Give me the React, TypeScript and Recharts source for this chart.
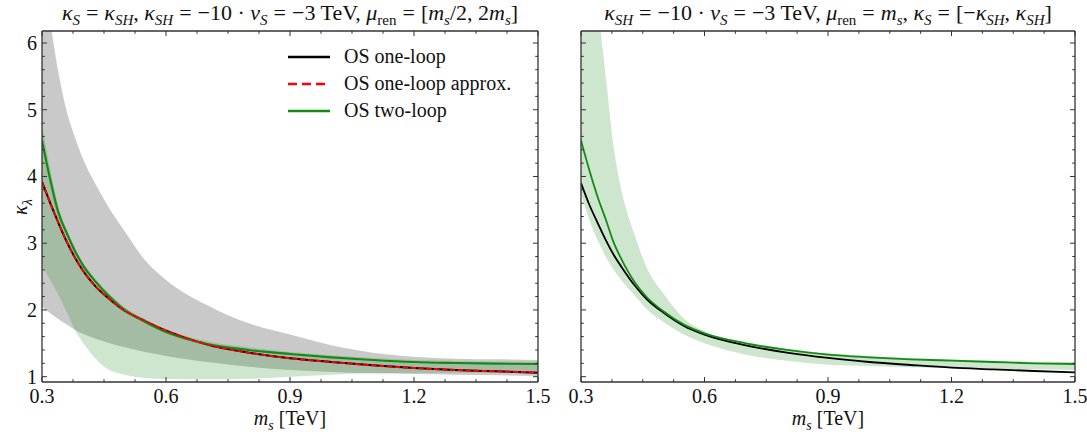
import React from 'react';
import { ComposedChart, Line, Area, XAxis, YAxis } from 'recharts';

// m_s grid [TeV]
const masses = [0.3, 0.32, 0.34, 0.36, 0.38, 0.4, 0.43, 0.46, 0.5, 0.55, 0.6, 0.7, 0.8, 0.9, 1.0, 1.1, 1.2, 1.3, 1.4, 1.5];

// left panel: kappa_S = kappa_SH, mu_ren scanned in [m_s/2, 2 m_s]
const leftOneLoop = [3.92, 3.6, 3.3, 3.02, 2.78, 2.58, 2.35, 2.18, 1.99, 1.83, 1.69, 1.48, 1.36, 1.275, 1.22, 1.17, 1.13, 1.1, 1.08, 1.06];
const leftApprox = [3.92, 3.6, 3.3, 3.02, 2.78, 2.58, 2.35, 2.18, 1.99, 1.83, 1.69, 1.48, 1.36, 1.275, 1.22, 1.17, 1.13, 1.1, 1.08, 1.06];
const leftTwoLoop = [4.54, 3.95, 3.45, 3.15, 2.88, 2.66, 2.42, 2.22, 2.0, 1.82, 1.67, 1.49, 1.4, 1.34, 1.29, 1.25, 1.22, 1.205, 1.195, 1.19];
const leftGrayHi = [7.0, 6.3, 5.55, 4.97, 4.58, 4.25, 3.88, 3.55, 3.18, 2.74, 2.45, 2.07, 1.8, 1.63, 1.47, 1.36, 1.3, 1.27, 1.26, 1.25];
const leftGrayLo = [2.05, 1.95, 1.86, 1.78, 1.7, 1.64, 1.57, 1.51, 1.44, 1.37, 1.31, 1.22, 1.15, 1.1, 1.07, 1.05, 1.04, 1.03, 1.02, 1.01];
const leftGreenHi = [4.79, 4.1, 3.55, 3.2, 2.92, 2.7, 2.46, 2.26, 2.04, 1.86, 1.71, 1.53, 1.44, 1.37, 1.32, 1.28, 1.25, 1.235, 1.225, 1.22];
const leftGreenLo = [2.65, 2.45, 2.22, 1.97, 1.7, 1.5, 1.27, 1.11, 1.03, 0.98, 0.965, 0.96, 0.97, 1.0, 1.03, 1.05, 1.06, 1.06, 1.06, 1.06];

// right panel: mu_ren = m_s, kappa_S scanned in [-kappa_SH, kappa_SH]
const rightOneLoop = [3.9, 3.58, 3.31, 3.05, 2.82, 2.63, 2.37, 2.16, 1.96, 1.76, 1.63, 1.47, 1.36, 1.28, 1.22, 1.175, 1.135, 1.11, 1.085, 1.065];
const rightTwoLoop = [4.54, 4.1, 3.7, 3.36, 3.0, 2.74, 2.42, 2.19, 1.98, 1.78, 1.65, 1.5, 1.4, 1.33, 1.29, 1.26, 1.24, 1.22, 1.2, 1.19];
const rightGreenHi = [9.0, 7.7, 6.6, 5.5, 4.42, 3.75, 3.13, 2.63, 2.25, 1.87, 1.68, 1.52, 1.42, 1.35, 1.31, 1.28, 1.26, 1.24, 1.225, 1.215];
const rightGreenLo = [3.75, 3.35, 3.05, 2.8, 2.6, 2.43, 2.22, 2.01, 1.82, 1.63, 1.5, 1.33, 1.24, 1.18, 1.16, 1.14, 1.13, 1.12, 1.11, 1.1];

const xTicks = [0.3, 0.375, 0.45, 0.525, 0.6, 0.675, 0.75, 0.825, 0.9, 0.975, 1.05, 1.125, 1.2, 1.275, 1.35, 1.425, 1.5];
const xMajor = ['0.3', '0.6', '0.9', '1.2', '1.5'];
const yTicks = [1, 1.2, 1.4, 1.6, 1.8, 2, 2.2, 2.4, 2.6, 2.8, 3, 3.2, 3.4, 3.6, 3.8, 4, 4.2, 4.4, 4.6, 4.8, 5, 5.2, 5.4, 5.6, 5.8, 6];
const yMajor = ['1', '2', '3', '4', '5', '6'];

const leftData = masses.map((m, i) => ({
  m,
  gray: [leftGrayLo[i], leftGrayHi[i]],
  greenBand: [leftGreenLo[i], leftGreenHi[i]],
  oneLoop: leftOneLoop[i],
  approx: leftApprox[i],
  twoLoop: leftTwoLoop[i],
}));

const rightData = masses.map((m, i) => ({
  m,
  greenBand: [rightGreenLo[i], rightGreenHi[i]],
  oneLoop: rightOneLoop[i],
  twoLoop: rightTwoLoop[i],
}));

const FONT = '"Liberation Serif", "DejaVu Serif", serif';
const FRAME = '#333';
const GREEN = '#138a13';
const H = 432;

const fmt = (v: number) => String(Math.round(v * 1000) / 1000);

// inward ticks, mpl style; labels only where showLabels
const makeTick = (side: 'bottom' | 'top' | 'left' | 'right', showLabels: boolean) => (props: any) => {
  const { x, y, payload } = props;
  const label = fmt(payload.value);
  const major = side === 'bottom' || side === 'top' ? xMajor.includes(label) : yMajor.includes(label);
  const len = major ? 5 : 2.8;
  let line;
  if (side === 'bottom') line = <line x1={x} x2={x} y1={y} y2={y - len} stroke={FRAME} strokeWidth={1} />;
  else if (side === 'top') line = <line x1={x} x2={x} y1={y} y2={y + len} stroke={FRAME} strokeWidth={1} />;
  else if (side === 'left') line = <line x1={x} x2={x + len} y1={y} y2={y} stroke={FRAME} strokeWidth={1} />;
  else line = <line x1={x} x2={x - len} y1={y} y2={y} stroke={FRAME} strokeWidth={1} />;
  let text = null;
  if (showLabels && major) {
    if (side === 'bottom')
      text = <text x={x} y={y + 21} textAnchor="middle" fontFamily={FONT} fontSize={20} fill="#111">{label}</text>;
    if (side === 'left')
      text = <text x={x - 5} y={y + 7} textAnchor="end" fontFamily={FONT} fontSize={20} fill="#111">{label}</text>;
  }
  return <g>{line}{text}</g>;
};

const frameAxes = (showY: boolean) => [
  <XAxis key="xb" dataKey="m" type="number" domain={[0.3, 1.5]} ticks={xTicks} interval={0} allowDataOverflow
    height={1} tickSize={0} tickMargin={0} tickLine={false} axisLine={{ stroke: FRAME, strokeWidth: 1.3 }}
    tick={makeTick('bottom', true)} />,
  <XAxis key="xt" xAxisId="top" orientation="top" dataKey="m" type="number" domain={[0.3, 1.5]} ticks={xTicks} interval={0} allowDataOverflow
    height={1} tickSize={0} tickMargin={0} tickLine={false} axisLine={{ stroke: FRAME, strokeWidth: 1.3 }}
    tick={makeTick('top', false)} />,
  <YAxis key="yl" type="number" domain={[0.92, 6.18]} ticks={yTicks} interval={0} allowDataOverflow
    width={1} tickSize={0} tickMargin={0} tickLine={false} axisLine={{ stroke: FRAME, strokeWidth: 1.3 }}
    tick={makeTick('left', showY)} />,
  <YAxis key="yr" yAxisId="right" orientation="right" type="number" domain={[0.92, 6.18]} ticks={yTicks} interval={0} allowDataOverflow
    width={1} tickSize={0} tickMargin={0} tickLine={false} axisLine={{ stroke: FRAME, strokeWidth: 1.3 }}
    tick={makeTick('right', false)} />,
  <Line key="ghost" xAxisId="top" yAxisId="right" dataKey="oneLoop" stroke="none" dot={false} isAnimationActive={false} />,
];

const SUB = { fontSize: 15 };
const Eq = () => <span style={{ margin: '0 6px' }}>=</span>;

const XLabel = ({ cx }: { cx: number }) => (
  <div style={{ position: 'absolute', left: cx, top: 407, transform: 'translateX(-50%)', fontFamily: FONT, fontSize: 20, lineHeight: '22px', whiteSpace: 'nowrap', color: '#111' }}>
    <i>m</i><sub style={{ fontSize: 14, lineHeight: 0 }}><i>s</i></sub> [TeV]
  </div>
);

const legendItems = [
  { name: 'OS one-loop', color: '#000', dash: undefined },
  { name: 'OS one-loop approx.', color: '#f00', dash: '9 5' },
  { name: 'OS two-loop', color: GREEN, dash: undefined },
];

const titleStyle = (cx: number): React.CSSProperties => ({
  position: 'absolute', left: cx, top: 0, transform: 'translateX(-50%)', fontSize: 22, whiteSpace: 'nowrap', color: '#111',
});

export default function App() {
  return (
    <div style={{ position: 'absolute', left: 0, top: 0, width: 1087, height: 432, background: '#fff', fontFamily: FONT }}>
      {/* titles */}
      <div style={titleStyle(290)}>
        <i>κ</i><sub style={SUB}><i>S</i></sub><Eq /><i>κ</i><sub style={SUB}><i>SH</i></sub>, <i>κ</i><sub style={SUB}><i>SH</i></sub><Eq />−10 · <i>v</i><sub style={SUB}><i>S</i></sub><Eq />−3 TeV, <i>μ</i><sub style={SUB}>ren</sub><Eq />[<i>m</i><sub style={SUB}><i>s</i></sub>/2, 2<i>m</i><sub style={SUB}><i>s</i></sub>]
      </div>
      <div style={titleStyle(828)}>
        <i>κ</i><sub style={SUB}><i>SH</i></sub><Eq />−10 · <i>v</i><sub style={SUB}><i>S</i></sub><Eq />−3 TeV, <i>μ</i><sub style={SUB}>ren</sub><Eq /><i>m</i><sub style={SUB}><i>s</i></sub>, <i>κ</i><sub style={SUB}><i>S</i></sub><Eq />[−<i>κ</i><sub style={SUB}><i>SH</i></sub>, <i>κ</i><sub style={SUB}><i>SH</i></sub>]
      </div>

      <div style={{ position: 'absolute', left: 0, top: 0 }}>
        <ComposedChart width={562} height={H} data={leftData} margin={{ top: 30, right: 23, left: 41, bottom: 49 }}>
          {frameAxes(true)}
          <Area dataKey="gray" type="monotone" stroke="none" fill="#c9c9c9" fillOpacity={1} isAnimationActive={false} />
          <Area dataKey="greenBand" type="monotone" stroke="none" fill="#1a8c1a" fillOpacity={0.22} isAnimationActive={false} />
          <Line dataKey="oneLoop" type="monotone" stroke="#000" strokeWidth={2} dot={false} isAnimationActive={false} />
          <Line dataKey="twoLoop" type="monotone" stroke={GREEN} strokeWidth={2.2} dot={false} isAnimationActive={false} />
          <Line dataKey="approx" type="monotone" stroke="#f00" strokeWidth={2} strokeDasharray="5.5 2.4" dot={false} isAnimationActive={false} />
        </ComposedChart>
      </div>

      <div style={{ position: 'absolute', left: 540, top: 0 }}>
        <ComposedChart width={547} height={H} data={rightData} margin={{ top: 30, right: 11, left: 40, bottom: 49 }}>
          {frameAxes(false)}
          <Area dataKey="greenBand" type="monotone" stroke="none" fill="#1a8c1a" fillOpacity={0.22} isAnimationActive={false} />
          <Line dataKey="oneLoop" type="monotone" stroke="#000" strokeWidth={1.8} dot={false} isAnimationActive={false} />
          <Line dataKey="twoLoop" type="monotone" stroke={GREEN} strokeWidth={1.8} dot={false} isAnimationActive={false} />
        </ComposedChart>
      </div>

      {/* legend */}
      <div style={{ position: 'absolute', left: 286, top: 43 }}>
        {legendItems.map((it) => (
          <div key={it.name} style={{ display: 'flex', alignItems: 'center', height: 27, fontSize: 20, color: '#111' }}>
            <svg width={46} height={10} style={{ marginRight: 12 }}>
              <line x1={2} x2={44} y1={5} y2={5} stroke={it.color} strokeWidth={2.4} strokeDasharray={it.dash} />
            </svg>
            <span>{it.name}</span>
          </div>
        ))}
      </div>

      {/* axis labels */}
      <XLabel cx={290} />
      <XLabel cx={828} />
      <div style={{ position: 'absolute', left: 22, top: 207, transform: 'translate(-50%, -50%) rotate(-90deg)', fontSize: 20, whiteSpace: 'nowrap', color: '#111' }}>
        <i>κ</i><sub style={SUB}><i>λ</i></sub>
      </div>
    </div>
  );
}
